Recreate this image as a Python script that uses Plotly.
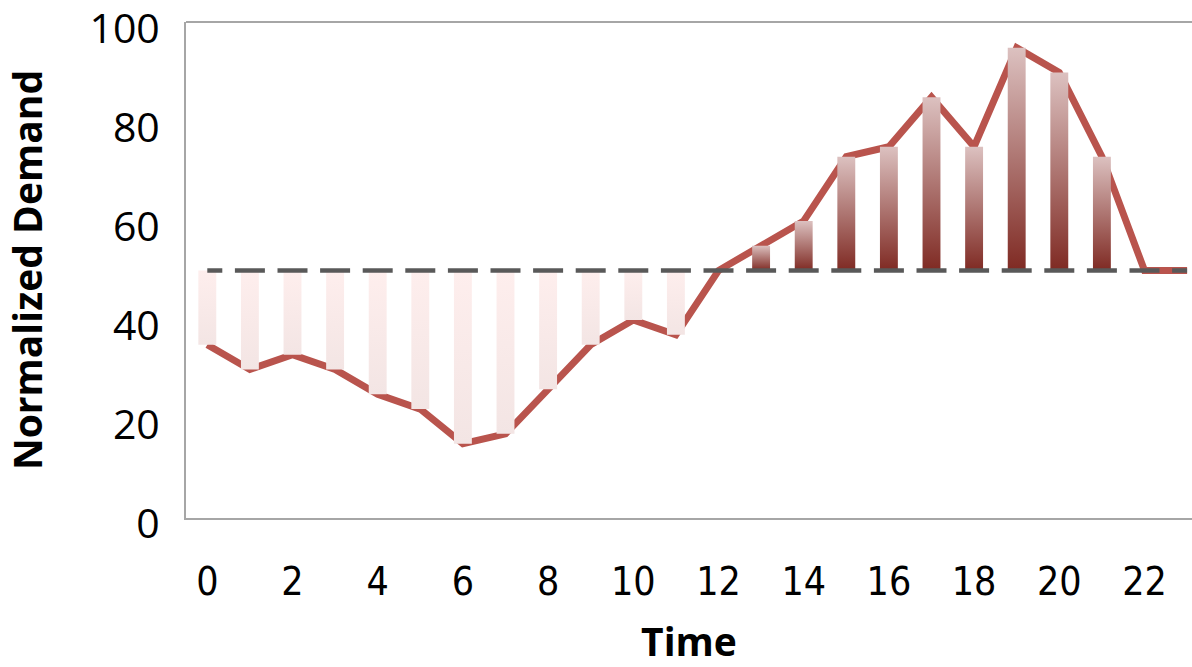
import plotly.graph_objects as go

# Hourly normalized demand and the flat reference level
time = list(range(24))
demand = [35, 30, 33, 30, 25, 22, 15, 17, 26, 35, 40, 37,
          50, 55, 60, 73, 75, 85, 75, 95, 90, 73, 50, 50]
baseline = 50

x_ticks = list(range(0, 23, 2))
y_ticks = [0, 20, 40, 60, 80, 100]

LINE_RED = "#b9544d"
DASH_GREY = "#595959"
BAR_HALF = 0.21
NARROW = "DejaVu Sans Condensed, Roboto Condensed, Roboto, sans-serif"

fig = go.Figure()

# demand curve (drawn first so the deviation bars sit on top of it)
fig.add_trace(go.Scatter(
    x=time, y=demand, mode="lines",
    line=dict(color=LINE_RED, width=7),
    hoverinfo="skip", showlegend=False,
))

# deviation bars from the baseline, each with its own vertical gradient
for t, v in zip(time, demand):
    if v == baseline:
        continue
    xs = [t - BAR_HALF, t + BAR_HALF, t + BAR_HALF, t - BAR_HALF, t - BAR_HALF]
    ys = [baseline, baseline, v, v, baseline]
    if v > baseline:
        grad = dict(type="vertical", start=baseline, stop=v,
                    colorscale=[[0, "#7f2a23"], [1, "#dcc1c0"]])
    else:
        grad = dict(type="vertical", start=v, stop=baseline,
                    colorscale=[[0, "#f3e5e4"], [1, "#feeeed"]])
    fig.add_trace(go.Scatter(
        x=xs, y=ys, mode="lines", fill="toself",
        line=dict(width=0, color="rgba(0,0,0,0)"),
        fillgradient=grad,
        hoverinfo="skip", showlegend=False,
    ))

# dashed baseline, dashes centred on each hour
fig.add_trace(go.Scatter(
    x=[time[0], time[-1]], y=[baseline, baseline], mode="lines",
    line=dict(color=DASH_GREY, width=4.5, dash="15px,12.6px,15px,0px"),
    hoverinfo="skip", showlegend=False,
))

fig.update_layout(
    width=1192, height=667,
    margin=dict(l=186, r=0, t=22, b=149),
    paper_bgcolor="white", plot_bgcolor="white",
    font=dict(family="Open Sans", color="#000000"),
    shapes=[dict(type="line", xref="paper", yref="paper",
                 x0=0, x1=1, y0=1, y1=1,
                 line=dict(color="#a6a6a6", width=2))],
)

fig.update_xaxes(
    range=[-0.5, 23.115], automargin=False,
    tickmode="array", tickvals=x_ticks, ticktext=[str(v) for v in x_ticks],
    tickfont=dict(family=NARROW, size=39),
    ticks="", ticklabelstandoff=28,
    showgrid=False, zeroline=False,
    showline=True, linecolor="#a6a6a6", linewidth=2,
    title=dict(text="<b>Time</b>", standoff=35,
               font=dict(family="Open Sans", size=39)),
)

fig.update_yaxes(
    range=[0, 100.2], automargin=False,
    tickmode="array", tickvals=y_ticks, ticktext=[str(v) for v in y_ticks],
    tickfont=dict(family="Open Sans", size=41),
    ticks="", ticklabelstandoff=16, ticklabelshift=6,
    ticklabeloverflow="allow",
    showgrid=False, zeroline=False,
    showline=True, linecolor="#a6a6a6", linewidth=2,
    title=dict(text="<b>Normalized Demand</b>", standoff=40,
               font=dict(family="Open Sans", size=39)),
)

fig.write_html("out.html")
